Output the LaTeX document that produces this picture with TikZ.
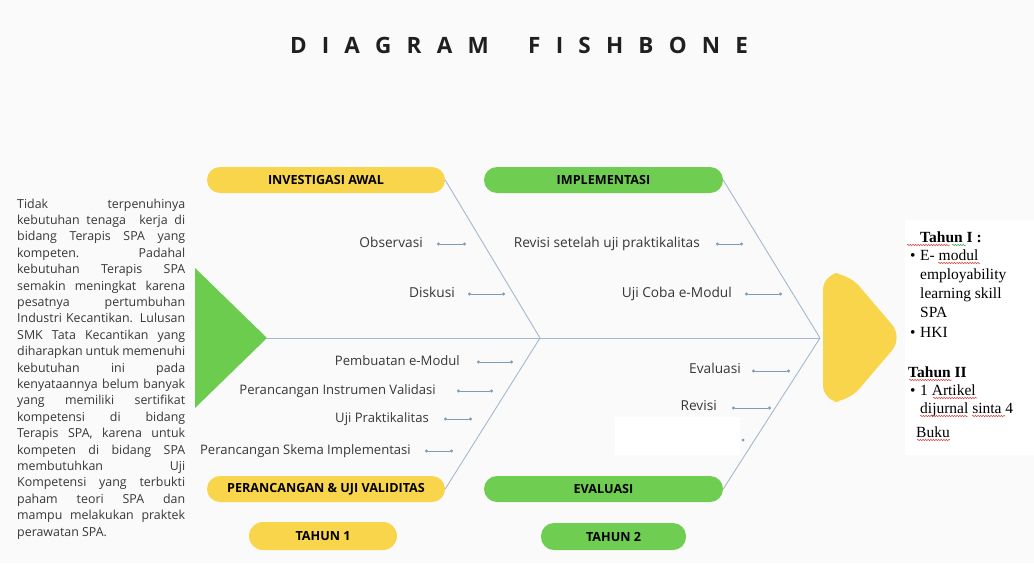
\documentclass[tikz,border=0pt]{standalone}
\usepackage{fontspec}
\setmainfont{Open Sans}
\newfontfamily\tnr{Liberation Serif}
\usetikzlibrary{arrows.meta,decorations.pathmorphing}
\definecolor{bgc}{RGB}{250,250,250}
\definecolor{pillyellow}{RGB}{249,213,76}
\definecolor{pillgreen}{RGB}{111,205,82}
\definecolor{trigreen}{RGB}{108,204,78}
\definecolor{bonec}{RGB}{165,184,204}
\definecolor{tickc}{RGB}{130,155,180}
\definecolor{lblc}{RGB}{55,55,55}
\definecolor{spellred}{RGB}{215,60,60}
\definecolor{spellgreen}{RGB}{60,160,80}
\newcommand\jl[1]{\makebox[168pt][s]{#1}\\}
\begin{document}
\begin{tikzpicture}[x=1pt,y=-1pt,
  pill/.style={rectangle, rounded corners=13pt, minimum height=26pt, inner sep=0pt,
    font=\fontsize{12.6}{14}\selectfont\bfseries, text=black},
  lbl/.style={anchor=east, inner sep=0pt, text height=7pt, text depth=0pt,
    font=\fontsize{13.7}{15}\selectfont, text=lblc},
  lbls/.style={lbl, font=\fontsize{13.1}{15}\selectfont},
  bonel/.style={draw=bonec, line width=0.9pt},
  tick/.style={draw=tickc, line width=0.7pt, {Circle[length=3pt]}-{Circle[length=3pt]}},
  rt/.style={anchor=base west, inner sep=0pt, font=\tnr\fontsize{15.5}{18}\selectfont, text=black},
  wavy/.style={draw=spellred, line width=0.5pt, decorate,
    decoration={snake, amplitude=0.7pt, segment length=2.6pt}},
]
% background
\fill[bgc] (0,0) rectangle (1034,563);
\useasboundingbox (0,0) rectangle (1034,563);

% title
\node[inner sep=0pt, font=\fontsize{22.5}{25}\selectfont\bfseries, text=black!88] (title) at (519,45)
  {\makebox[458pt][s]{D\hfil I\hfil A\hfil G\hfil R\hfil A\hfil M\hskip 0pt plus 2.6fil F\hfil I\hfil S\hfil H\hfil B\hfil O\hfil N\hfil E}};

% left description
\node[anchor=base west, inner sep=0pt, text=lblc] (desc) at (17,208)
  {\parbox[t]{168pt}{\fontsize{12.4}{16.4}\selectfont
  \jl{Tidak terpenuhinya}
  \jl{kebutuhan tenaga\ \ kerja di}
  \jl{bidang Terapis SPA yang}
  \jl{kompeten. Padahal}
  \jl{kebutuhan Terapis SPA}
  \jl{semakin meningkat karena}
  \jl{pesatnya pertumbuhan}
  \jl{Industri Kecantikan. Lulusan}
  \jl{SMK Tata Kecantikan yang}
  \jl{diharapkan untuk memenuhi}
  \jl{kebutuhan ini pada}
  \jl{kenyataannya belum banyak}
  \jl{yang memiliki sertifikat}
  \jl{kompetensi di bidang}
  \jl{Terapis SPA, karena untuk}
  \jl{kompeten di bidang SPA}
  \jl{membutuhkan Uji}
  \jl{Kompetensi yang terbukti}
  \jl{paham teori SPA dan}
  \jl{mampu melakukan praktek}
  perawatan SPA.}};

% tail triangle and head
\fill[trigreen] (195,268) -- (267,338) -- (195,408) -- cycle;
\coordinate (tail) at (266,338);
\fill[pillyellow, rounded corners=17pt] (823,273) -- (848,273) -- (903,337.5) -- (848,402) -- (823,402) -- cycle;
\coordinate (head) at (820,338);

% pills
\node[pill, fill=pillyellow, minimum width=238pt] (inv) at (326,180) {INVESTIGASI AWAL};
\node[pill, fill=pillgreen, minimum width=239pt] (imp) at (603.5,180) {IMPLEMENTASI};
\node[pill, fill=pillyellow, minimum width=238pt] (per) at (326,489) {PERANCANGAN \& UJI VALIDITAS};
\node[pill, fill=pillgreen, minimum width=239pt] (eva) at (603.5,489) {EVALUASI};
\node[pill, fill=pillyellow, minimum width=148pt, minimum height=28pt, rounded corners=14pt] (t1) at (323,536) {TAHUN 1};
\node[pill, fill=pillgreen, minimum width=145pt, minimum height=27pt] (t2) at (613.5,536.5) {TAHUN 2};

% spine and bones
\coordinate (j1) at (540,338);
\draw[bonel] (tail) -- (head);
\draw[bonel] (inv.east) -- (j1);
\draw[bonel] (per.east) -- (j1);
\draw[bonel] (imp.east) -- (head);
\draw[bonel] (eva.east) -- (head);

% labels
\node[lbl] (obs) at (423,244) {Observasi};
\node[lbl] (dis) at (455,294) {Diskusi};
\node[lbl] (rev1) at (700,244) {Revisi setelah uji praktikalitas};
\node[lbl] (uji1) at (732,294) {Uji Coba e-Modul};
\node[lbls] (pem) at (460,362) {Pembuatan e-Modul};
\node[lbls] (piv) at (436,391) {Perancangan Instrumen Validasi};
\node[lbls] (ujp) at (429,419) {Uji Praktikalitas};
\node[lbls] (psi) at (411,451) {Perancangan Skema Implementasi};
\node[lbl] (evl) at (741,370) {Evaluasi};
\node[lbl] (rvs) at (717,407) {Revisi};

% tick connectors
\coordinate (obsA) at (437,244); \coordinate (obsB) at (466,244);
\coordinate (disA) at (468,294); \coordinate (disB) at (505,294);
\coordinate (rev1A) at (716,244); \coordinate (rev1B) at (743,244);
\coordinate (uji1A) at (745,294); \coordinate (uji1B) at (782,294);
\coordinate (pemA) at (477,362); \coordinate (pemB) at (513,362);
\coordinate (pivA) at (457,391); \coordinate (pivB) at (493,391);
\coordinate (ujpA) at (444,419); \coordinate (ujpB) at (472,419);
\coordinate (psiA) at (425,451); \coordinate (psiB) at (453,451);
\coordinate (evlA) at (752,371); \coordinate (evlB) at (790,371);
\coordinate (rvsA) at (732,408); \coordinate (rvsB) at (771,408);
\foreach \t in {obs,dis,rev1,uji1,pem,piv,ujp,psi,evl,rvs}
  \draw[tick] (\t A) -- (\t B);

% masked item
\fill[white] (615,417) rectangle (740,455);
\coordinate (dotx) at (743,440);
\fill[tickc] (dotx) circle (1.5pt);

% right text box
\fill[white] (905,220) rectangle (1034,455);
\node[rt, font=\tnr\fontsize{15.5}{18}\selectfont\bfseries] (th1) at (920,242) {Tahun I :};
\node[rt] (b1) at (910,260) {\textbullet};
\node[rt] (e1) at (920,260) {E- modul};
\node[rt] (e2) at (920,279) {employability};
\node[rt] (e3) at (920,298) {learning skill};
\node[rt] (e4) at (920,317) {SPA};
\node[rt] (b2) at (910,337) {\textbullet};
\node[rt] (hki) at (920,337) {HKI};
\node[rt, font=\tnr\fontsize{15.5}{18}\selectfont\bfseries] (th2) at (908,377) {Tahun II};
\node[rt] (b3) at (910,395) {\textbullet};
\node[rt] (a1) at (920,395) {1 Artikel};
\node[rt] (a2) at (920,413) {dijurnal sinta 4};
\node[rt] (bk) at (916,437) {Buku};

% spell-check underlines
\draw[wavy] (907,245) -- (950,245);
\draw[wavy, draw=spellgreen] (952,245) -- (966,245);
\draw[wavy] (938,263) -- (980,263);
\draw[wavy] (909,380) -- (952,380);
\draw[wavy] (933,398) -- (977,398);
\draw[wavy] (920,416) -- (968,416);
\draw[wavy] (972,416) -- (1005,416);
\draw[wavy] (917,440) -- (950,440);
\end{tikzpicture}
\end{document}
